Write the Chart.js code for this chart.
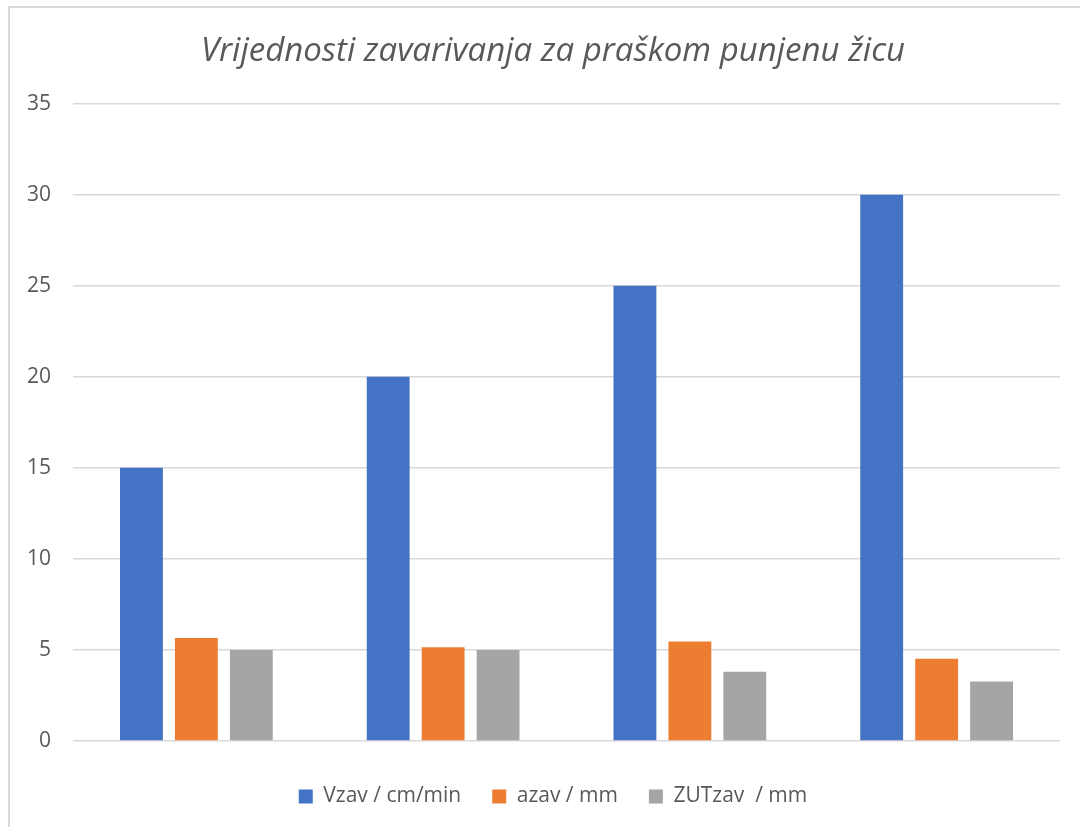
<!DOCTYPE html>
<html>
<head>
<meta charset="utf-8">
<script src="https://cdn.jsdelivr.net/npm/chart.js@4"></script>
<style>
  html, body { margin: 0; padding: 0; background: #fff; overflow: hidden; }
  #box {
    position: absolute; left: 8px; top: 6px;
    width: 1090px; height: 830px;
    border: 2px solid #d9d9d9; box-sizing: border-box;
  }
  #wrap { position: absolute; left: 0; top: 0; width: 1086px; height: 819px; }
</style>
</head>
<body>
<div id="box"><div id="wrap"><canvas id="c"></canvas></div></div>
<script>
/* ===== DATA ===== */
const categories = ["1", "2", "3", "4"];
const vzav = [15, 20, 25, 30];
const azav = [5.65, 5.15, 5.47, 4.51];
const zutzav = [5, 5, 3.8, 3.27];
const seriesNames = ["Vzav / cm/min", "azav / mm", "ZUTzav  / mm"];
const yTicks = [0, 5, 10, 15, 20, 25, 30, 35];

const FONT = "'Open Sans', 'Noto Sans', sans-serif";
const TEXT = "#595959";

/* ===== CHART ===== */
new Chart(document.getElementById("c"), {
  type: "bar",
  data: {
    labels: categories,
    datasets: [
      { label: seriesNames[0], data: vzav, backgroundColor: "#4472C4" },
      { label: seriesNames[1], data: azav, backgroundColor: "#ED7D31" },
      { label: seriesNames[2], data: zutzav, backgroundColor: "#A5A5A5" }
    ]
  },
  options: {
    responsive: true,
    maintainAspectRatio: false,
    animation: false,
    datasets: { bar: { categoryPercentage: 0.668, barPercentage: 0.78 } },
    layout: { padding: { left: 0, right: 0, top: 0, bottom: 10 } },
    plugins: {
      title: {
        display: true,
        text: "Vrijednosti zavarivanja za praškom punjenu žicu",
        color: TEXT,
        font: { family: FONT, size: 33, style: "italic", weight: "normal" },
        padding: { top: 24, bottom: 32 }
      },
      legend: {
        position: "bottom",
        labels: {
          color: TEXT,
          font: { family: FONT, size: 21 },
          boxWidth: 14, boxHeight: 14,
          padding: 31
        }
      },
      tooltip: { enabled: false }
    },
    scales: {
      x: {
        ticks: { display: false },
        grid: { display: false },
        border: { display: false },
        // keep empty room under and right of the plot
        afterFit: s => { s.height = 14; s.paddingRight = 36; }
      },
      y: {
        min: 0, max: 35,
        afterBuildTicks: s => { s.ticks = yTicks.map(v => ({ value: v })); },
        afterFit: s => { s.width = 63; },
        ticks: { color: TEXT, font: { family: FONT, size: 21 }, padding: 22 },
        grid: { color: "#d9d9d9", lineWidth: 1.5, drawTicks: false },
        border: { display: false }
      }
    }
  }
});
</script>
</body>
</html>
